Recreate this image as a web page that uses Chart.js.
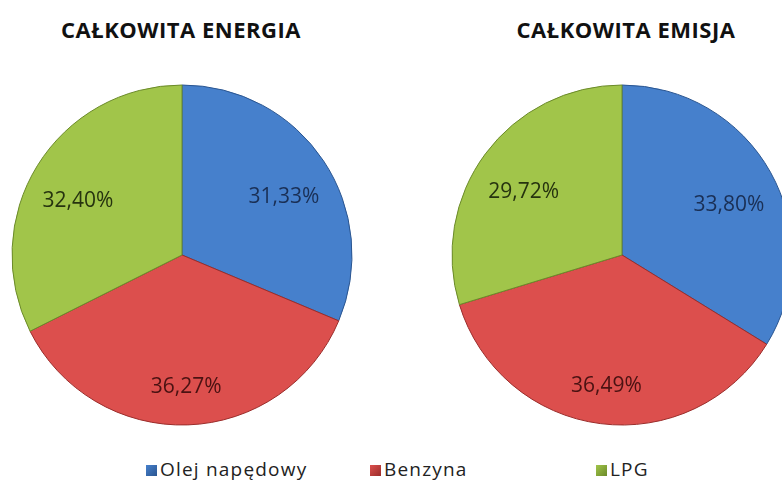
<!DOCTYPE html>
<html>
<head>
<meta charset="utf-8">
<script src="https://cdn.jsdelivr.net/npm/chart.js@4.4.1/dist/chart.umd.min.js"></script>
<style>
  body { margin: 0; width: 782px; height: 487px; overflow: hidden; background: #fff; font-family: "Open Sans", sans-serif; position: relative; }
  .title { position: absolute; top: 14px; font-weight: bold; font-size: 22px; letter-spacing: 0.5px; color: #111; text-align: center; width: 340px; }
  .box { position: absolute; top: 84px; width: 342px; height: 342px; }
  #legend { position: absolute; top: 456px; left: 0; width: 782px; font-size: 19px; color: #222; }
  #legend span.item { position: absolute; white-space: nowrap; letter-spacing: 1.2px; }
  #legend i { display: inline-block; width: 11px; height: 11px; margin-right: 3px; vertical-align: 0px; }
</style>
</head>
<body>
<div class="title" style="left:11px">CAŁKOWITA ENERGIA</div>
<div class="title" style="left:456px">CAŁKOWITA EMISJA</div>
<div class="box" style="left:11px"><canvas id="energia"></canvas></div>
<div class="box" style="left:451px"><canvas id="emisja"></canvas></div>
<div id="legend"></div>

<script>
const categories = ['Olej napędowy', 'Benzyna', 'LPG'];
const energia = [31.33, 36.27, 32.40];
const emisja = [33.80, 36.49, 29.72];

// kolory: [środek, brzeg, ramka, tekst]
const colors = [
  ['#4680cc', '#3062a8', '#2a5590', '#1a2f55'],
  ['#dc4f4d', '#b93836', '#9a2c2a', '#4a1212'],
  ['#a1c54a', '#86a837', '#6b8a2a', '#26330f']
];
const legendX = [146, 370, 596];


function sliceFill(ctx) {
  const chart = ctx.chart;
  const arc = chart.getDatasetMeta(0).data[ctx.dataIndex];
  const c = colors[ctx.dataIndex];
  if (!arc || !arc.outerRadius) return c[0];
  const g = chart.ctx.createRadialGradient(arc.x, arc.y, 0, arc.x, arc.y, arc.outerRadius);
  g.addColorStop(0, c[0]);
  g.addColorStop(0.7, c[0]);
  g.addColorStop(1, c[1]);
  return g;
}

// etykiety procentowe w środku wycinków
const pctLabels = {
  id: 'pctLabels',
  afterDatasetsDraw(chart) {
    const ctx = chart.ctx;
    const meta = chart.getDatasetMeta(0);
    const values = chart.data.datasets[0].data;
    ctx.save();
    ctx.font = '21px "Open Sans", sans-serif';
    ctx.textAlign = 'center';
    ctx.textBaseline = 'middle';
    meta.data.forEach((arc, i) => {
      const p = arc.getProps(['x', 'y', 'startAngle', 'endAngle', 'outerRadius'], true);
      const mid = (p.startAngle + p.endAngle) / 2;
      const r = p.outerRadius * 0.72;
      ctx.fillStyle = colors[i][3];
      ctx.fillText(values[i].toFixed(2).replace('.', ',') + '%', p.x + Math.cos(mid) * r, p.y + Math.sin(mid) * r + 10);
    });
    ctx.restore();
  }
};


function createPie(id, data) {
  new Chart(document.getElementById(id), {
    type: 'pie',
    data: {
      labels: categories,
      datasets: [{
        data: data,
        backgroundColor: sliceFill,
        borderColor: colors.map(c => c[2]),
        borderWidth: 1,
        radius: 170
      }]
    },
    options: {
      responsive: true,
      maintainAspectRatio: false,
      animation: false,
      layout: { padding: 0 },
      plugins: {
        legend: { display: false },
        tooltip: { enabled: false }
      }
    },
    plugins: [pctLabels]
  });
}

createPie('energia', energia);
createPie('emisja', emisja);

const legend = document.getElementById('legend');
categories.forEach((name, i) => {
  const item = document.createElement('span');
  item.className = 'item';
  item.style.left = legendX[i] + 'px';
  item.innerHTML = `<i style="background:linear-gradient(135deg, ${colors[i][0]}, ${colors[i][2]})"></i>${name}`;
  legend.appendChild(item);
});
</script>
</body>
</html>
